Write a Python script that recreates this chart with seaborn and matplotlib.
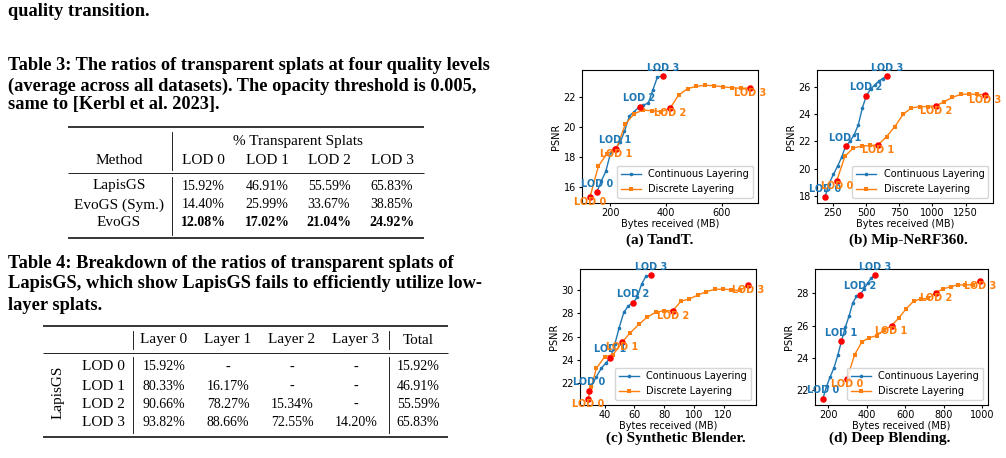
import matplotlib
matplotlib.use("Agg")
import matplotlib.pyplot as plt
import seaborn as sns

W, H = 1006, 458
SERIF = "Liberation Serif"
BLUE = "#1f77b4"
ORANGE = "#ff7f0e"

# ---------------- table data ----------------
t3_methods = ["LapisGS", "EvoGS (Sym.)", "EvoGS"]
t3_cols = ["LOD 0", "LOD 1", "LOD 2", "LOD 3"]
t3_vals = [[15.92, 46.91, 55.59, 65.83],
           [14.40, 25.99, 33.67, 38.85],
           [12.08, 17.02, 21.04, 24.92]]

t4_rows = ["LOD 0", "LOD 1", "LOD 2", "LOD 3"]
t4_cols = ["Layer 0", "Layer 1", "Layer 2", "Layer 3", "Total"]
t4_vals = [[15.92, None, None, None, 15.92],
           [80.33, 16.17, None, None, 46.91],
           [90.66, 78.27, 15.34, None, 55.59],
           [93.82, 88.66, 72.55, 14.20, 65.83]]

# ---------------- panel data (Bytes MB, PSNR) ----------------
# (a) TandT
a_cont_x = [152, 168, 184.5, 202, 218, 236, 251, 269, 286, 305, 319, 337, 352, 369, 388]
a_cont_y = [15.62, 16.36, 17.02, 18.29, 18.55, 18.96, 19.69, 20.73, 21.02, 21.36, 21.44, 21.62, 22.44, 23.33, 23.4]
a_cont_lod = [0, 4, 9, 14]
a_disc_x = [128, 158, 188, 222, 254, 287, 319, 351, 382, 414, 445, 477, 508, 539, 571, 604, 637, 669, 700]
a_disc_y = [15.31, 17.37, 18.2, 18.5, 20.18, 20.89, 21.13, 21.07, 21.02, 21.24, 22.13, 22.56, 22.71, 22.78, 22.76, 22.67, 22.62, 22.58, 22.6]
a_disc_lod = [0, 3, 9, 18]

# (b) Mip-NeRF360
b_cont_x = [192, 222, 255, 287, 317, 347, 380, 412, 442, 472, 503, 535, 565, 595, 625, 657]
b_cont_y = [17.95, 18.9, 19.6, 20.2, 20.85, 21.66, 22.0, 22.51, 23.21, 24.42, 25.35, 25.83, 26.12, 26.39, 26.6, 26.78]
b_cont_lod = [0, 5, 10, 15]
b_disc_x = [280, 342, 405, 467, 530, 592, 655, 717, 780, 842, 905, 967, 1028, 1088, 1150, 1212, 1275, 1337, 1395]
b_disc_y = [19.12, 20.93, 21.52, 21.66, 21.71, 21.76, 22.36, 23.09, 23.99, 24.45, 24.55, 24.55, 24.62, 24.91, 25.22, 25.44, 25.47, 25.44, 25.42]
b_disc_lod = [0, 5, 12, 18]

# (c) Synthetic Blender
c_cont_x = [29.4, 31.0, 34.4, 37.7, 40.7, 43.8, 46.8, 49.7, 52.8, 55.8, 59.1, 61.8, 64.8, 67.7, 71.1]
c_cont_y = [21.36, 21.77, 22.58, 23.3, 23.74, 24.2, 25.39, 26.78, 28.09, 28.64, 28.93, 29.39, 30.52, 31.19, 31.28]
c_cont_lod = [0, 5, 10, 14]
c_disc_x = [28.7, 31.0, 34.4, 40.0, 45.6, 51.7, 57.3, 63.0, 68.6, 74.2, 79.9, 85.7, 91.3, 97.0, 102.6, 108.2, 113.9, 119.5, 125.1, 131.0, 136.4]
c_disc_y = [20.67, 21.71, 23.3, 24.29, 24.46, 25.54, 26.35, 27.07, 27.68, 28.09, 28.23, 28.23, 29.04, 29.25, 29.57, 29.86, 30.06, 30.09, 30.03, 29.97, 30.41]
c_disc_lod = [0, 5, 11, 20]

# (d) Deep Blending
d_cont_x = [171, 190, 210, 229, 249, 268, 288, 308, 327, 346, 365, 385, 404, 423, 442]
d_cont_y = [21.48, 22.25, 22.86, 23.4, 24.18, 25.05, 25.91, 26.62, 27.42, 27.82, 27.92, 28.26, 28.63, 28.95, 29.13]
d_cont_lod = [0, 5, 10, 14]
d_disc_x = [297, 336, 375, 413, 452, 490, 529, 567, 606, 644, 683, 721, 760, 798, 837, 875, 914, 952, 991]
d_disc_y = [22.71, 24.2, 25.01, 25.26, 25.39, 25.74, 26.0, 26.48, 27.06, 27.52, 27.67, 27.69, 28.05, 28.28, 28.42, 28.53, 28.53, 28.53, 28.8]
d_disc_lod = [0, 6, 12, 18]

panels = [
    ("(a) TandT.", a_cont_x, a_cont_y, a_cont_lod, a_disc_x, a_disc_y, a_disc_lod,
     [200, 400, 600], [16, 18, 20, 22]),
    ("(b) Mip-NeRF360.", b_cont_x, b_cont_y, b_cont_lod, b_disc_x, b_disc_y, b_disc_lod,
     [250, 500, 750, 1000, 1250], [18, 20, 22, 24, 26]),
    ("(c) Synthetic Blender.", c_cont_x, c_cont_y, c_cont_lod, c_disc_x, c_disc_y, c_disc_lod,
     [40, 60, 80, 100, 120], [22, 24, 26, 28, 30]),
    ("(d) Deep Blending.", d_cont_x, d_cont_y, d_cont_lod, d_disc_x, d_disc_y, d_disc_lod,
     [200, 400, 600, 800, 1000], [22, 24, 26, 28]),
]

# axes boxes in pixels: left, right, top, bottom ; caption centre
boxes = [(582, 758, 70, 203, 660, 240),
         (817, 993, 70, 203, 908, 240),
         (580, 756, 269, 405, 676, 438),
         (815, 988, 269, 405, 890, 438)]

fig = plt.figure(figsize=(W / 100, H / 100), dpi=100)

# background axes in pixel coordinates for the text/tables
bg = fig.add_axes([0, 0, 1, 1], zorder=-1)
bg.set_xlim(0, W)
bg.set_ylim(H, 0)
bg.axis("off")


def txt(x, y, s, size=10, weight="normal", ha="center", **kw):
    bg.text(x, y, s, fontsize=size, fontweight=weight, ha=ha, va="center",
            family=SERIF, **kw)


def hrule(x0, x1, y, lw):
    bg.plot([x0, x1], [y, y], color="black", lw=lw, solid_capstyle="butt")


def vrule(x, y0, y1):
    bg.plot([x, x], [y0, y1], color="black", lw=0.6)


CAP = 13.2
txt(8, 12, "quality transition.", CAP, "bold", ha="left")

# ---- Table 3 ----
for y, line in zip([66, 86, 105], [
        "Table 3: The ratios of transparent splats at four quality levels",
        "(average across all datasets). The opacity threshold is 0.005,",
        "same to [Kerbl et al. 2023]."]):
    txt(8, y, line, CAP, "bold", ha="left")

hrule(68, 424, 127, 1.1)
hrule(68, 424, 173, 0.6)
hrule(68, 424, 238, 1.1)
vrule(172, 132, 170)
vrule(172, 177, 235)
txt(298, 142, "% Transparent Splats", 11)
txt(119, 161, "Method", 11)
col3 = [203, 267, 329, 392]
for cx, c in zip(col3, t3_cols):
    txt(cx, 161, c, 11)
for r, (m, vals) in enumerate(zip(t3_methods, t3_vals)):
    y = [186, 205, 223][r]
    txt(119, y, m, 11)
    for cx, v in zip(col3, vals):
        txt(cx, y, f"{v:.2f}%", weight="bold" if r == 2 else "normal")

# ---- Table 4 ----
for y, line in zip([263, 284, 305], [
        "Table 4: Breakdown of the ratios of transparent splats of",
        "LapisGS, which show LapisGS fails to efficiently utilize low-",
        "layer splats."]):
    txt(8, y, line, CAP, "bold", ha="left")

hrule(43, 448, 326, 1.1)
hrule(43, 448, 353, 0.6)
hrule(43, 448, 437, 1.1)
for xv in [133, 389]:
    vrule(xv, 331, 349)
    vrule(xv, 357, 433)
col4 = [164, 228, 292, 356, 418]
for cx, c in zip(col4, t4_cols):
    txt(cx, 340, c, 11)
txt(58, 392, "LapisGS", 11, rotation=90)
for r, (lab, vals) in enumerate(zip(t4_rows, t4_vals)):
    y = [367, 386, 404, 423][r]
    txt(103, y, lab, 11)
    for cx, v in zip(col4, vals):
        txt(cx, y, "-" if v is None else f"{v:.2f}%")

# ---- plots ----
FS = 7
for (cap, cx, cy, clod, dx, dy, dlod, xt, yt), (l, r, t, b, capx, capy) in zip(panels, boxes):
    ax = fig.add_axes([l / W, 1 - b / H, (r - l) / W, (b - t) / H])
    sns.lineplot(x=cx, y=cy, ax=ax, color=BLUE, marker="o", markersize=2.6,
                 markeredgewidth=0, markeredgecolor=BLUE, linewidth=1,
                 sort=False, estimator=None, label="Continuous Layering")
    sns.lineplot(x=dx, y=dy, ax=ax, color=ORANGE, marker="s", markersize=2.3,
                 markeredgewidth=0, markeredgecolor=ORANGE, linewidth=1,
                 sort=False, estimator=None, label="Discrete Layering")
    lx = [cx[i] for i in clod] + [dx[i] for i in dlod]
    ly = [cy[i] for i in clod] + [dy[i] for i in dlod]
    sns.scatterplot(x=lx, y=ly, ax=ax, color="red", s=22, linewidth=0, zorder=4)
    for k, i in enumerate(clod):
        ax.annotate(f"LOD {k}", (cx[i], cy[i]), xytext=(0, 6), textcoords="offset points",
                    ha="center", va="center", color=BLUE, fontsize=FS, fontweight="bold", zorder=6)
    for k, i in enumerate(dlod):
        ax.annotate(f"LOD {k}", (dx[i], dy[i]), xytext=(0, -3.6), textcoords="offset points",
                    ha="center", va="center", color=ORANGE, fontsize=FS, fontweight="bold", zorder=6)
    ax.set_xticks(xt)
    ax.set_yticks(yt)
    ax.tick_params(labelsize=FS, length=2.5, pad=1.2)
    ax.tick_params(axis="y", pad=1.8)
    ax.set_xlabel("Bytes received (MB)", fontsize=FS, labelpad=0.3)
    ax.set_ylabel("PSNR", fontsize=FS, labelpad=2)
    ax.legend(loc="lower right", fontsize=FS, handlelength=2.0, borderpad=0.4)
    txt(capx, capy, cap, 11, "bold")

fig.savefig("out.png", dpi=100)
